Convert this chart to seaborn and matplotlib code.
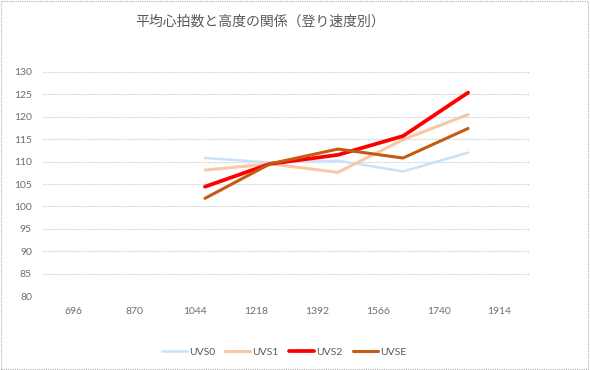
import numpy as np
import pandas as pd
import matplotlib
matplotlib.use("Agg")
import matplotlib.pyplot as plt
import seaborn as sns

# data
altitude = [1072, 1258, 1452, 1638, 1824]
uvs0 = [110.8, 109.8, 110.2, 107.8, 112.0]
uvs1 = [108.1, 109.5, 107.6, 114.9, 120.5]
uvs2 = [104.4, 109.5, 111.5, 115.7, 125.4]
uvse = [101.8, 109.5, 112.8, 110.8, 117.4]
series_names = ["UVS0", "UVS1", "UVS2", "UVSE"]
x_ticks = [696, 870, 1044, 1218, 1392, 1566, 1740, 1914]
y_ticks = list(range(80, 131, 5))
title = "平均心拍数と高度の関係（登り速度別）"

df = pd.DataFrame({
    "altitude": altitude * 4,
    "hr": uvs0 + uvs1 + uvs2 + uvse,
    "series": np.repeat(series_names, len(altitude)),
})

sns.set_theme(style="white")
plt.rcParams["font.family"] = ["Lato", "Noto Sans CJK JP", "DejaVu Sans"]

palette = {"UVS0": "#c9e2f7", "UVS1": "#f8c7a4", "UVS2": "#ff0000", "UVSE": "#c55a11"}
widths = {"UVS0": 1.8, "UVS1": 2.2, "UVS2": 2.7, "UVSE": 2.2}

fig = plt.figure(figsize=(5.9, 3.7), dpi=100)
ax = fig.add_axes([43 / 590, 1 - 296 / 370, (530 - 43) / 590, (296 - 72) / 370])

for name in series_names:
    sns.lineplot(data=df[df["series"] == name], x="altitude", y="hr", color=palette[name],
                 linewidth=widths[name], label=name, ax=ax)

ax.set_xlim(609, 2001)
ax.set_ylim(80, 130)
ax.set_xticks(x_ticks)
ax.set_yticks(y_ticks)
ax.tick_params(axis="both", length=0, labelsize=7.5, labelcolor="#6e6e6e")
ax.tick_params(axis="x", pad=8)
ax.tick_params(axis="y", pad=8)
ax.set_xlabel("")
ax.set_ylabel("")
ax.yaxis.grid(True, color="#c8c8c8", linestyle=(0, (1, 1)), linewidth=0.8)
ax.xaxis.grid(False)
for s in ax.spines.values():
    s.set_visible(False)
ax.set_axisbelow(True)

fig.text(260 / 590, 1 - 22 / 370, title, ha="center", va="center", fontsize=10,
         color="#595959", family=["Noto Sans CJK JP", "DejaVu Sans"])

ax.legend(loc="center", bbox_to_anchor=(0.495, -0.25), ncol=4, frameon=False, fontsize=7.5,
          labelcolor="#595959", handlelength=2.4, handletextpad=0.2, columnspacing=1.0)

border = plt.Rectangle((0.002, 0.003), 0.995, 0.994, transform=fig.transFigure, fill=False,
                       edgecolor="#b0b0b0", linestyle=(0, (1, 1)), linewidth=0.8)
fig.patches.append(border)

fig.savefig("out.png", dpi=100)
